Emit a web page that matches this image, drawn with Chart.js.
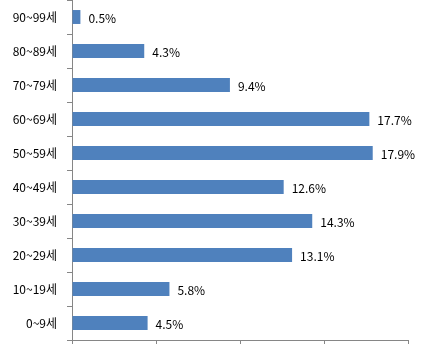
<!DOCTYPE html>
<html>
<head>
<meta charset="utf-8">
<script src="https://cdn.jsdelivr.net/npm/chart.js@4/dist/chart.umd.min.js"></script>
<style>
  html, body { margin: 0; padding: 0; background: #fff; }
  #wrap { width: 425px; height: 352px; }
</style>
</head>
<body>
<div id="wrap"><canvas id="myChart"></canvas></div>
<script>
// age groups, top to bottom as in the picture
const ageGroups = ['90~99세', '80~89세', '70~79세', '60~69세', '50~59세',
                   '40~49세', '30~39세', '20~29세', '10~19세', '0~9세'];
const shares = [0.5, 4.3, 9.4, 17.7, 17.9, 12.6, 14.3, 13.1, 5.8, 4.5];
const axisMax = 20;
const axisStep = 5;

const axisGray = '#868686';
const barBlue = '#4F81BD';
const labelFont = { family: '"Noto Sans CJK KR", "Noto Sans", sans-serif', size: 12 };

// value labels at the end of each bar
const valueLabels = {
  id: 'valueLabels',
  afterDatasetsDraw(chart) {
    const ctx = chart.ctx;
    const meta = chart.getDatasetMeta(0);
    ctx.save();
    ctx.font = labelFont.size + 'px ' + labelFont.family;
    ctx.fillStyle = '#000';
    ctx.textAlign = 'left';
    ctx.textBaseline = 'middle';
    meta.data.forEach(function(bar, i) {
      ctx.fillText(shares[i].toFixed(1) + '%', bar.x + 8, bar.y + 1);
    });
    ctx.restore();
  }
};

const ctx = document.getElementById('myChart').getContext('2d');
// eslint-disable-next-line no-unused-vars
const chart = new Chart(ctx, {
  type: 'bar',
  data: {
    labels: ageGroups,
    datasets: [{
      data: shares,
      backgroundColor: barBlue,
      borderWidth: 0,
      barPercentage: 0.41,
      categoryPercentage: 1
    }]
  },
  options: {
    indexAxis: 'y',
    responsive: true,
    maintainAspectRatio: false,
    animation: false,
    layout: { padding: { top: 0, right: 17, bottom: 0, left: 0 } },
    plugins: {
      legend: { display: false },
      tooltip: { enabled: false }
    },
    scales: {
      x: {
        min: 0,
        max: axisMax,
        ticks: { display: false, stepSize: axisStep },
        grid: { drawOnChartArea: false, drawTicks: true, tickLength: 4, color: axisGray },
        border: { color: axisGray },
        afterFit(scale) {
          scale.height = 12;
          scale.paddingLeft = 0;
          scale.paddingRight = 0;
        }
      },
      y: {
        ticks: { color: '#000', font: labelFont, padding: 10 },
        grid: { drawOnChartArea: false, drawTicks: true, tickLength: 5, color: axisGray, offset: true },
        border: { color: axisGray },
        afterFit(scale) {
          scale.width = 72;
          scale.paddingTop = 0;
          scale.paddingBottom = 0;
        }
      }
    }
  },
  plugins: [valueLabels]
});
</script>
</body>
</html>
